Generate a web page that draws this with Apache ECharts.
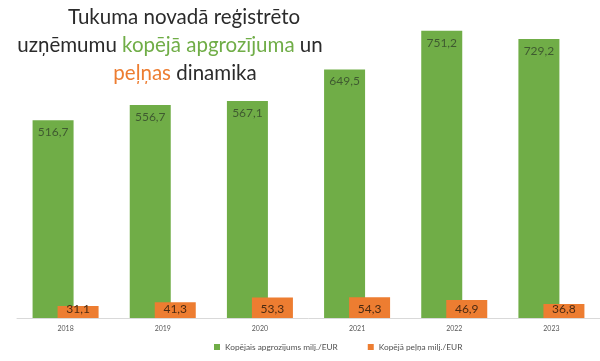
<!DOCTYPE html>
<html>
<head>
<meta charset="utf-8">
<script src="https://cdn.jsdelivr.net/npm/echarts@6/dist/echarts.min.js"></script>
<style>html,body{margin:0;padding:0;background:#fff}#c{width:600px;height:361px}</style>
</head>
<body>
<div id="c"></div>
<script>
var years = ['2018', '2019', '2020', '2021', '2022', '2023'];
var turnover = [516.7, 556.7, 567.1, 649.5, 751.2, 729.2];
var profit = [31.1, 41.3, 53.3, 54.3, 46.9, 36.8];
var seriesNames = ['Kopējais apgrozījums milj./EUR', 'Kopējā peļņa milj./EUR'];

var GREEN = '#70AD47', ORANGE = '#ED7D31', DARK = '#2B2B2B';
var fmt = function (p) { return p.value.toFixed(1).replace('.', ','); };
var TF = 'Lato';
var TS = 20.5;

var chart = echarts.init(document.getElementById('c'), null, {renderer: 'canvas'});
chart.setOption({
  animation: false,
  backgroundColor: '#fff',
  grid: {left: 17, right: 0, top: 12, bottom: 43, containLabel: false},
  xAxis: {
    type: 'category',
    data: years,
    axisLine: {lineStyle: {color: '#D9D9D9'}},
    axisTick: {show: false},
    axisLabel: {color: '#595959', fontSize: 7, fontFamily: 'Lato, sans-serif', margin: 7}
  },
  yAxis: {
    type: 'value', min: 0, max: 800,
    show: false,
    splitLine: {show: false}
  },
  legend: {
    top: 338, left: 209,
    itemWidth: 6, itemHeight: 6, itemGap: 30,
    icon: 'rect',
    textStyle: {fontSize: 8.3, color: '#505050', fontFamily: 'Lato, sans-serif'},
    data: seriesNames
  },
  series: [
    {
      name: seriesNames[0], type: 'bar', data: turnover,
      barWidth: 41, barGap: '-39%',
      itemStyle: {color: GREEN},
      label: {show: true, position: 'insideTop', distance: 6, formatter: fmt,
              color: '#3F5A30', fontSize: 12, fontFamily: 'Lato, sans-serif'}
    },
    {
      name: seriesNames[1], type: 'bar', data: profit,
      barWidth: 41, barGap: '-39%',
      itemStyle: {color: ORANGE},
      label: {show: true, position: 'insideBottom', distance: 3, formatter: fmt,
              color: '#4A2A12', fontSize: 12, fontFamily: 'Lato, sans-serif'}
    }
  ],
  graphic: [
    {type: 'text', x: 184, y: 7, style: {
      text: 'Tukuma novadā reģistrēto', align: 'center',
      fontFamily: TF, fontSize: TS, fill: DARK}},
    {type: 'text', x: 170, y: 35, style: {
      text: '{a|uzņēmumu }{g|kopējā apgrozījuma}{a| un}', align: 'center',
      rich: {
        a: {fontFamily: TF, fontSize: TS, fill: DARK},
        g: {fontFamily: TF, fontSize: TS, fill: GREEN}
      }}},
    {type: 'text', x: 185, y: 63, style: {
      text: '{o|peļņas}{a| dinamika}', align: 'center',
      rich: {
        a: {fontFamily: TF, fontSize: TS, fill: DARK},
        o: {fontFamily: TF, fontSize: TS, fill: ORANGE}
      }}}
  ]
});
</script>
</body>
</html>
